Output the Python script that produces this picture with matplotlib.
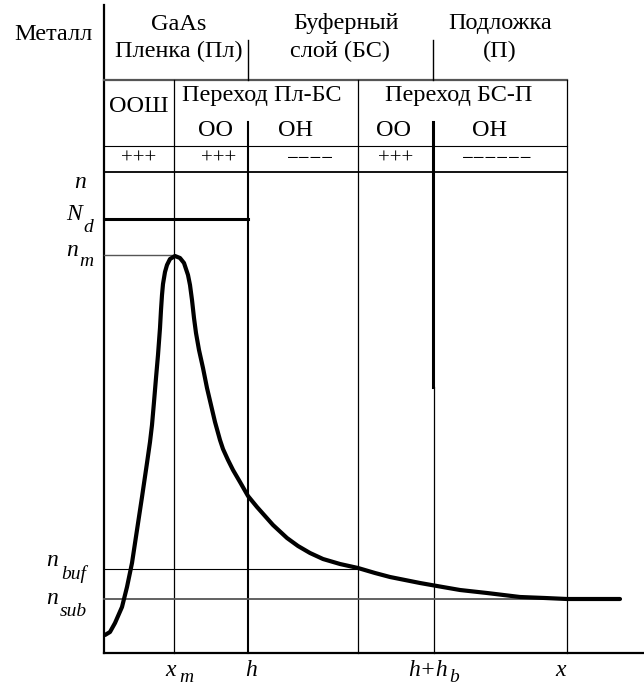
import matplotlib
matplotlib.use("Agg")
import matplotlib.pyplot as plt

plt.rcParams['font.family'] = ['Liberation Serif', 'DejaVu Serif']

# профиль n(x) (координаты схемы, y растет вниз)
curve_x = [105, 110, 115, 122, 127, 132, 137, 142, 147, 150, 152, 154, 156, 158,
           160, 161, 162, 163, 165, 167, 170, 175, 180, 184, 188, 190, 192, 194,
           196, 199, 203, 207, 211, 215, 220, 223, 228, 233, 240, 248, 257, 265,
           273, 287, 298, 310, 323, 340, 358, 375, 390, 405, 420, 437, 460, 487,
           520, 545, 567, 620]
curve_y = [635, 632, 623, 607, 587, 563, 530, 497, 463, 442, 425, 402, 378, 355,
           328, 310, 295, 284, 272, 265, 259, 256, 258, 263, 275, 285, 300, 318,
           333, 350, 368, 388, 405, 422, 440, 449, 460, 470, 482, 496, 507, 516,
           525, 538, 546, 553, 559, 564, 568, 573, 577, 580, 583, 586, 590, 593,
           597, 598, 599, 599]

# границы областей
x0 = 104          # ось n
x_m = 174
x_h = 248
x_mid = 358
x_hb = 433
x_end = 567
y_bot = 653       # ось x
x_right = 644

# уровни
y_Nd = 219
y_nm = 255
y_nbuf = 569
y_nsub = 599

fig = plt.figure(figsize=(6.44, 6.88), dpi=100)
ax = fig.add_axes([0, 0, 1, 1])
ax.set_xlim(0, 644)
ax.set_ylim(688, 0)
ax.axis('off')

k = 'black'
g = '#555555'

# оси
ax.plot([x0, x0], [5, y_bot], color=k, lw=1.6)
ax.plot([x0, x_right], [y_bot, y_bot], color=k, lw=1.6)

# шапка таблицы
ax.plot([x0, x_end], [80, 80], color=g, lw=1.6)
ax.plot([x0, x_end], [146, 146], color=k, lw=0.8)
ax.plot([x0, x_end], [172, 172], color=k, lw=1.3)
ax.plot([x_h, x_h], [40, 80], color=k, lw=1.0)
ax.plot([x_hb, x_hb], [40, 80], color=k, lw=1.0)

# вертикальные линии
ax.plot([x_m, x_m], [80, y_bot], color=k, lw=0.9)
ax.plot([x_h, x_h], [122, y_bot], color=k, lw=1.5)
ax.plot([x_mid, x_mid], [80, y_bot], color=k, lw=0.9)
ax.plot([x_hb, x_hb], [122, 387], color=k, lw=2.2)
ax.plot([x_hb + 1, x_hb + 1], [387, y_bot], color=k, lw=0.9)
ax.plot([x_end, x_end], [80, y_bot], color=k, lw=0.9)

# уровни концентрации
ax.plot([x0, x_h], [y_Nd, y_Nd], color=k, lw=2.2)
ax.plot([x0, x_m], [y_nm, y_nm], color=g, lw=1.0)
ax.plot([x0, x_mid], [y_nbuf, y_nbuf], color=k, lw=0.8)
ax.plot([x0, 620], [y_nsub, y_nsub], color=g, lw=1.3)

# кривая n(x)
ax.plot(curve_x, curve_y, color=k, lw=3.0, solid_capstyle='round', solid_joinstyle='round')

fs = 17.5
ax.text(53, 34, 'Металл', fontsize=fs, ha='center', va='center')
ax.text(179, 24, 'GaAs', fontsize=fs, ha='center', va='center')
ax.text(179, 51, 'Пленка (Пл)', fontsize=fs, ha='center', va='center')
ax.text(346, 24, 'Буферный', fontsize=fs, ha='center', va='center')
ax.text(340, 51, 'слой (БС)', fontsize=fs, ha='center', va='center')
ax.text(500, 24, 'Подложка', fontsize=fs, ha='center', va='center')
ax.text(500, 51, '(П)', fontsize=fs, ha='center', va='center')

ax.text(139, 107, 'ООШ', fontsize=fs, ha='center', va='center')
ax.text(262, 96, 'Переход Пл-БС', fontsize=fs, ha='center', va='center')
ax.text(216, 130, 'ОО', fontsize=fs, ha='center', va='center')
ax.text(296, 130, 'ОН', fontsize=fs, ha='center', va='center')
ax.text(459, 96, 'Переход БС-П', fontsize=fs, ha='center', va='center')
ax.text(394, 130, 'ОО', fontsize=fs, ha='center', va='center')
ax.text(490, 130, 'ОН', fontsize=fs, ha='center', va='center')

ax.text(139, 159, '+++', fontsize=15, ha='center', va='center')
ax.text(219, 159, '+++', fontsize=15, ha='center', va='center')
ax.text(310, 159, '−−−−', fontsize=15, ha='center', va='center')
ax.text(396, 159, '+++', fontsize=15, ha='center', va='center')
ax.text(497, 159, '−−−−−−', fontsize=15, ha='center', va='center')

# подписи уровней
ms = 17
ss = 14
it = dict(style='italic', ha='center', va='center')
ax.text(80, 183, 'n', fontsize=ms, **it)
ax.text(74, 214, 'N', fontsize=ms, **it)
ax.text(88, 227, 'd', fontsize=ss, **it)
ax.text(72, 251, 'n', fontsize=ms, **it)
ax.text(86, 262, 'm', fontsize=ss, **it)
ax.text(52, 560, 'n', fontsize=ms, **it)
ax.text(74, 574, 'buf', fontsize=ss, **it)
ax.text(52, 598, 'n', fontsize=ms, **it)
ax.text(73, 611, 'sub', fontsize=ss, **it)

# подписи оси x
ax.text(171, 671, 'x', fontsize=ms, **it)
ax.text(186, 678, 'm', fontsize=ss, **it)
ax.text(251, 671, 'h', fontsize=ms, **it)
ax.text(428, 671, 'h+h', fontsize=ms, **it)
ax.text(454, 678, 'b', fontsize=ss, **it)
ax.text(561, 671, 'x', fontsize=ms, **it)

fig.savefig('out.png', dpi=100)
